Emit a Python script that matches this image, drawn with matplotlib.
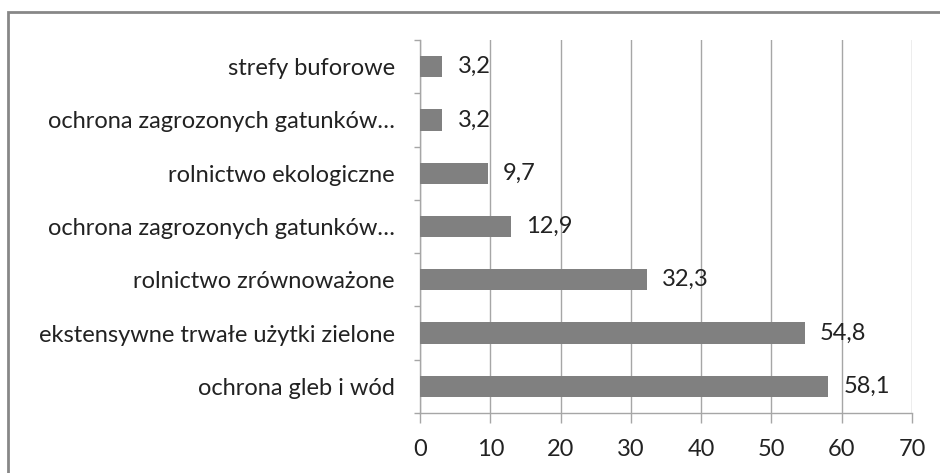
import matplotlib
matplotlib.use("Agg")
import matplotlib.pyplot as plt
from matplotlib.patches import Rectangle

# dane (od dołu do góry)
categories = [
    "ochrona gleb i wód",
    "ekstensywne trwałe użytki zielone",
    "rolnictwo zrównoważone",
    "ochrona zagrozonych gatunków…",
    "rolnictwo ekologiczne",
    "ochrona zagrozonych gatunków…",
    "strefy buforowe",
]
values = [58.1, 54.8, 32.3, 12.9, 9.7, 3.2, 3.2]
x_ticks = [0, 10, 20, 30, 40, 50, 60, 70]

plt.rcParams["font.family"] = ["Lato", "DejaVu Sans"]
TEXT = "#222222"
GRID = "#a6a6a6"
FS = 17

fig = plt.figure(figsize=(9.4, 4.73), dpi=100)
ax = fig.add_axes([0.4468, 0.1268, 0.5234, 0.7886])

# ramka wykresu
fig.patches.append(Rectangle((8 / 940, -0.1), 1.2, (473 - 12) / 473 + 0.1,
                             transform=fig.transFigure, fill=False,
                             edgecolor="#878787", linewidth=2))

y = list(range(len(categories)))
ax.barh(y, values, height=0.4, color="#808080", zorder=3)

for yi, v in zip(y, values):
    ax.annotate(f"{v:.1f}".replace(".", ","), (v, yi), xytext=(15, 0),
                textcoords="offset pixels", ha="left", va="center",
                fontsize=FS, color=TEXT)

ax.set_xlim(0, 70)
ax.set_ylim(-0.5, len(categories) - 0.5)
ax.set_xticks(x_ticks)
ax.set_xticklabels([str(t) for t in x_ticks], fontsize=FS, color=TEXT)
ax.tick_params(axis="x", length=7, width=1, color=GRID, pad=12)

ax.set_yticks(y)
ax.set_yticklabels(categories, fontsize=FS, color=TEXT)
ax.set_yticks([i - 0.5 for i in range(len(categories) + 1)], minor=True)
ax.tick_params(axis="y", which="major", length=0, pad=18)
ax.tick_params(axis="y", which="minor", length=4.5, width=1, color=GRID)

ax.grid(axis="x", color=GRID, linewidth=1, zorder=0)
for s in ["top", "right"]:
    ax.spines[s].set_visible(False)
for s in ["left", "bottom"]:
    ax.spines[s].set_color(GRID)
    ax.spines[s].set_linewidth(1)

fig.savefig("out.png", dpi=100)
